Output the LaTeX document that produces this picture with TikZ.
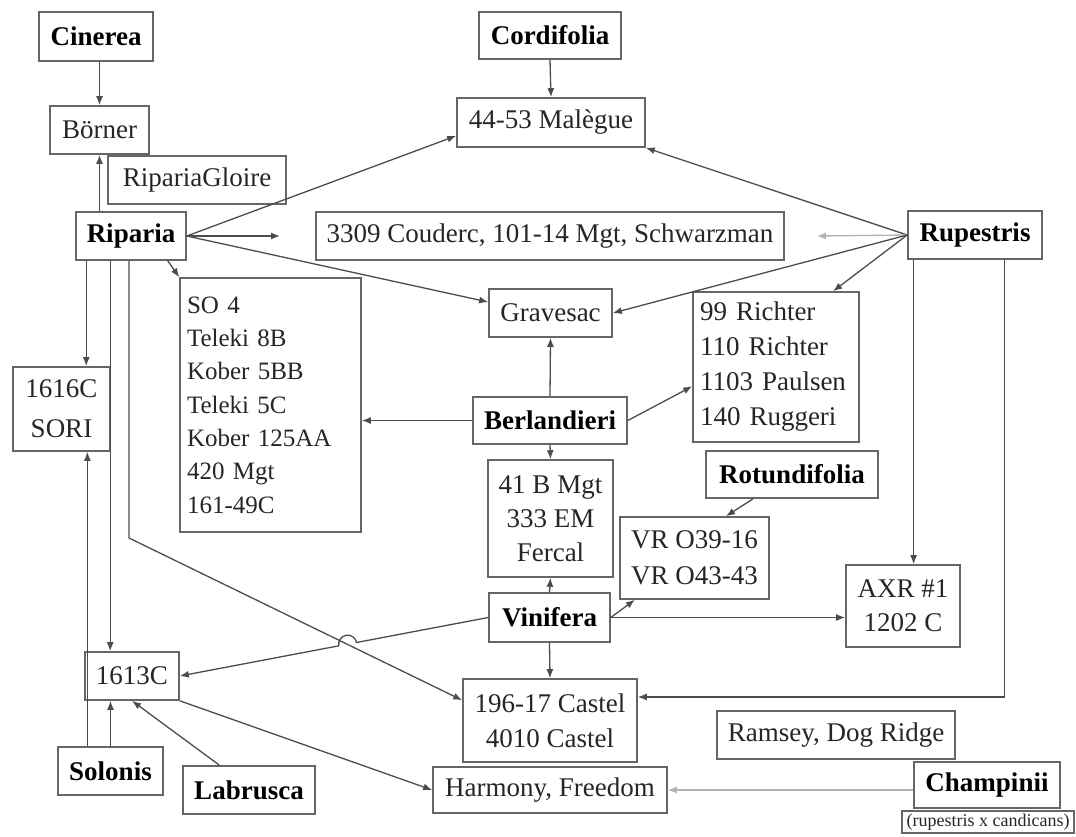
\documentclass[tikz,border=0pt]{standalone}
\usepackage{fontspec}
\setmainfont{Liberation Serif}
\usetikzlibrary{arrows.meta,calc}

\begin{document}
\begin{tikzpicture}[x=1pt,y=1pt,
  box/.style={draw=black!60,line width=1.6pt,fill=white,inner sep=0pt,text=black!85,
    font=\fontsize{27}{34}\selectfont,align=center},
  root/.style={box,font=\fontsize{27}{34}\selectfont\bfseries,text=black},
  link/.style={draw=black!70,line width=1.3pt,-{Latex[length=9pt,width=7pt]}},
  faint/.style={link,draw=black!30}]
  \useasboundingbox (0,0) rectangle (1076,-836);

  \node[root,minimum width=114,minimum height=49] (cinerea) at (96,-36.5) {Cinerea};
  \node[box,minimum width=99,minimum height=48] (borner) at (99.5,-130) {Börner};
  \node[box,minimum width=178,minimum height=48] (gloire) at (197,-180) {RipariaGloire};
  \node[root,minimum width=110,minimum height=48] (riparia) at (131,-236) {Riparia};
  \node[root,minimum width=142,minimum height=47] (cordifolia) at (550,-35.5) {Cordifolia};
  \node[box,minimum width=188,minimum height=49] (malegue) at (551,-122.5) {44-53 Malègue};
  \node[box,minimum width=468,minimum height=48] (c3309) at (550,-236) {3309 Couderc, 101-14 Mgt, Schwarzman};
  \node[root,minimum width=134,minimum height=48] (rupestris) at (975,-235) {Rupestris};
  \node[box,minimum width=123,minimum height=48] (gravesac) at (550.5,-313) {Gravesac};
  \node[box,align=left,text width=167,inner sep=7,minimum height=254,
    font=\fontsize{25}{33.3}\selectfont] (so4) at (270.5,-405)
    {SO 4\\Teleki 8B\\Kober 5BB\\Teleki 5C\\Kober 125AA\\420 Mgt\\161-49C};
  \node[box,align=left,text width=152,inner sep=7,minimum height=150,
    font=\fontsize{27}{35}\selectfont] (richter) at (776,-367)
    {99 Richter\\110 Richter\\1103 Paulsen\\140 Ruggeri};
  \node[root,minimum width=154,minimum height=47] (berlandieri) at (550,-420.5) {Berlandieri};
  \node[root,minimum width=172,minimum height=47] (rotundifolia) at (792,-474.5) {Rotundifolia};
  \node[box,minimum width=125,minimum height=117] (c41b) at (550.5,-518.5) {41 B Mgt\\333 EM\\Fercal};
  \node[box,minimum width=149,minimum height=82,font=\fontsize{27}{36}\selectfont] (vr) at (694.5,-558) {VR O39-16\\VR O43-43};
  \node[box,minimum width=97,minimum height=84,font=\fontsize{27}{40}\selectfont] (c1616) at (61.5,-409) {1616C\\SORI};
  \node[root,minimum width=121,minimum height=49] (vinifera) at (549.5,-617.5) {Vinifera};
  \node[box,minimum width=114,minimum height=82] (axr) at (903,-606) {AXR \#1\\1202 C};
  \node[box,minimum width=94,minimum height=48] (c1613) at (132,-676) {1613C};
  \node[box,minimum width=174,minimum height=83,font=\fontsize{27}{35}\selectfont] (castel) at (550,-720.5) {196-17 Castel\\4010 Castel};
  \node[box,minimum width=238,minimum height=48] (ramsey) at (836,-735) {Ramsey, Dog Ridge};
  \node[root,minimum width=105,minimum height=48] (solonis) at (110.5,-771) {Solonis};
  \node[root,minimum width=132,minimum height=48] (labrusca) at (249,-790) {Labrusca};
  \node[box,minimum width=234,minimum height=46] (harmony) at (550,-790) {Harmony, Freedom};
  \node[root,minimum width=146,minimum height=46] (champinii) at (987,-785) {Champinii};
  \node[box,minimum width=172,minimum height=22,line width=1.2pt,
    font=\fontsize{18}{19}\selectfont] (candicans) at (988,-822) {(rupestris x candicans)};

  \coordinate (gapL) at (280,-236);
  \coordinate (gapR) at (817,-236);
  \coordinate (ripbend) at (129,-538);

  \draw[link] (cinerea.south -| borner.north) -- (borner.north);
  \draw[link] (borner.south |- riparia.north) -- (borner.south);
  \draw[link] (cordifolia.south) -- (malegue.north);
  \draw[link] (riparia.east) -- (malegue.188);
  \draw[link] (riparia.east) -- (gapL);
  \draw[link] (riparia.east) -- (gravesac.170);
  \draw[link] (riparia.326) -- (so4.north west);
  \draw[link] (rupestris.west) -- (malegue.south east);
  \draw[faint] (rupestris.west) -- (gapR);
  \draw[link] (rupestris.west) -- (gravesac.east);
  \draw[link] (rupestris.west) -- (richter.53);
  \draw[link] (berlandieri.north) -- (gravesac.south);
  \draw[link] (berlandieri.west) -- (berlandieri.west -| so4.east);
  \draw[link] (berlandieri.east) -- (richter.193);
  \draw[link] (berlandieri.south) -- (c41b.north);
  \draw[link] (rotundifolia.212) -- (vr.53);
  \draw[link] (vinifera.north) -- (c41b.south);
  \draw[link] (vinifera.east) -- (vr.215);
  \draw[link] (vinifera.east) -- (vinifera.east -| axr.west);
  \draw[link] (vinifera.south) -- (castel.north);
  \draw[link] (vinifera.west) -- ($(vinifera.west)!0.427!(c1613.east)$)
    arc[start angle=10.7,end angle=190.7,radius=9] -- (c1613.east);
  \draw[link] (rupestris.202) -- (rupestris.202 |- axr.north);
  \draw[link] (rupestris.320) |- (castel.15);
  \draw[link] (riparia.209) -- (riparia.209 |- c1616.north);
  \draw[link] (riparia.230) -- (riparia.230 |- c1613.north);
  \draw[link] (riparia.south -| ripbend) -- (ripbend) -- (castel.167);
  \draw[link] (solonis.133) -- (solonis.133 |- c1616.south);
  \draw[link] (solonis.north) -- (solonis.north |- c1613.south);
  \draw[link] (labrusca.140) -- (c1613.south);
  \draw[link] (c1613.south east) -- (harmony.west);
  \draw[faint] (harmony.east -| champinii.west) -- (harmony.east);
\end{tikzpicture}
\end{document}
